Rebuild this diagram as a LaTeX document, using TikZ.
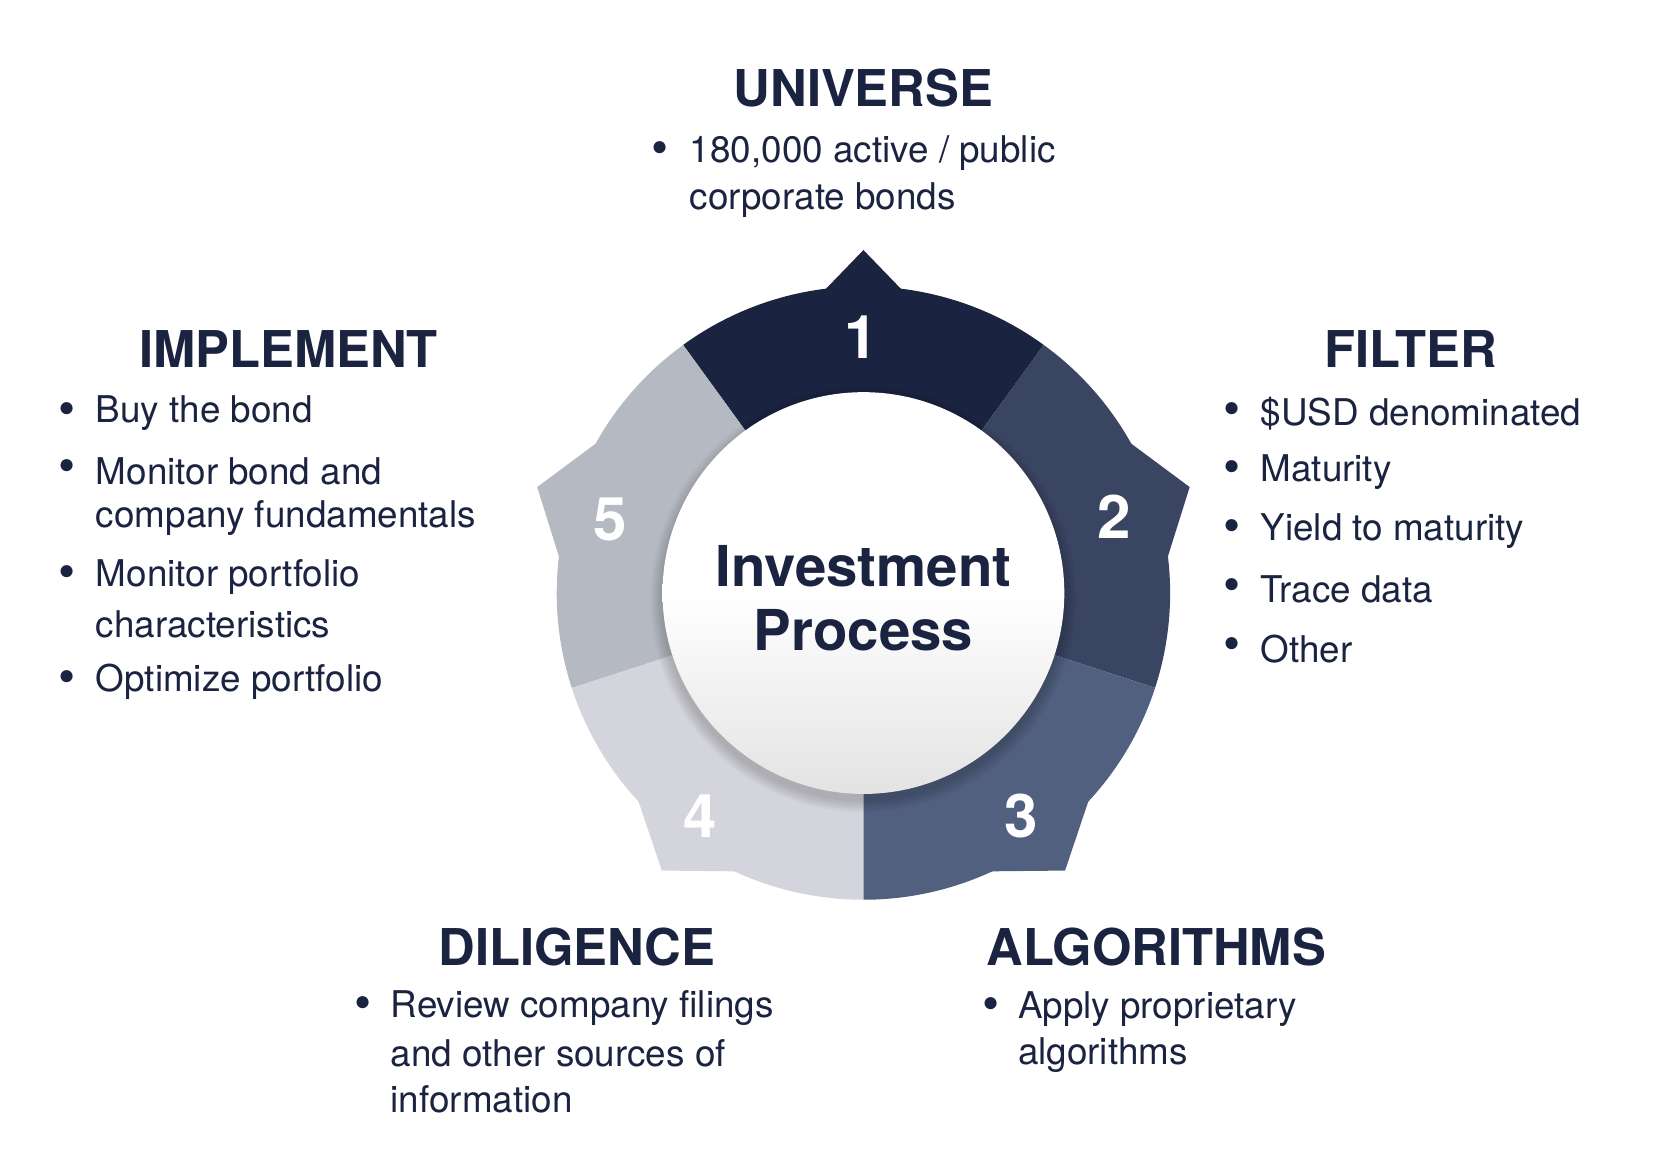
\documentclass[tikz,border=0pt]{standalone}
\usepackage{fontspec}
\setmainfont{TeX Gyre Heros}
\begin{document}
\begin{tikzpicture}[x=0.01cm,y=-0.01cm]
\definecolor{navy}{HTML}{1A2340}
\definecolor{sA}{HTML}{1A2340}
\definecolor{sB}{HTML}{3A4562}
\definecolor{sC}{HTML}{52607F}
\definecolor{sD}{HTML}{D4D4DC}
\definecolor{sE}{HTML}{B5B9C2}
\tikzset{
  ttl/.style={font=\fontsize{13.5}{16}\selectfont\bfseries, text=navy, inner sep=0},
  txt/.style={font=\fontsize{9.8}{12}\selectfont, text=navy, anchor=west, inner sep=0},
  bul/.style={font=\fontsize{13}{12}\selectfont, text=navy, inner sep=0},
  num/.style={font=\fontsize{16}{20}\selectfont\bfseries, text=white, inner sep=0},
}
\useasboundingbox (0,0) rectangle (1560,1092);
\fill[white] (0,0) rectangle (1560,1092);
\coordinate (c) at (808,555);
% segments (angles negated because y axis points down)
\foreach \a/\b/\col/\h in {-126/-54/sA/8, -54/18/sB/13, 18/90/sC/13, 90/162/sD/13, 162/234/sE/13}{
  \pgfmathsetmacro{\m}{(\a+\b)/2}
  \fill[\col] ([shift={(\a:287)}]c) arc[start angle=\a,end angle=\b,radius=287]
     -- ([shift={(\b:185)}]c) arc[start angle=\b,end angle=\a,radius=185] -- cycle;
  \fill[\col] ([shift={(\m-\h:283)}]c) -- ([shift={(\m:321)}]c) -- ([shift={(\m+\h:283)}]c) -- cycle;
}
% shadow of inner circle
\foreach \i in {1,...,6}{
  \fill[black,opacity=0.03] ([shift={(0,6)}]c) circle[radius=187+2*\i];
}
\shade[top color=white, bottom color=gray!22, middle color=white] (c) circle[radius=188];
\node[circle, minimum size=3.76cm, inner sep=0] (ctr) at (c) {};
\node[font=\fontsize{15}{18}\selectfont\bfseries, text=navy, align=center] (ip) at (808,560) {Investment\\[-1pt]Process};
% numbers
\node[num] (n1) at (806,316) {1};
\node[num] (n2) at (1043,484) {2};
\node[num] (n3) at (956,764) {3};
\node[num] (n4) at (655,764) {4};
\node[num] (n5) at (571,486) {5};
% UNIVERSE
\node[ttl] (tu) at (808,82) {UNIVERSE};
\node[bul] (bu1) at (618,143) {•};
\node[txt] (u1) at (645,143) {180,000 active / public};
\node[txt] (u2) at (645,187) {corporate bonds};
% IMPLEMENT
\node[ttl] (ti) at (270,327) {IMPLEMENT};
\node[bul] (bi1) at (63,387) {•};
\node[txt] (i1) at (89,387) {Buy the bond};
\node[bul] (bi2) at (63,441) {•};
\node[txt] (i2) at (89,441) {Monitor bond and};
\node[txt] (i3) at (89,485) {company fundamentals};
\node[bul] (bi3) at (63,540) {•};
\node[txt] (i4) at (89,540) {Monitor portfolio};
\node[txt] (i5) at (89,584) {characteristics};
\node[bul] (bi4) at (63,638) {•};
\node[txt] (i6) at (89,638) {Optimize portfolio};
% FILTER
\node[ttl] (tf) at (1320,327) {FILTER};
\foreach \y/\t [count=\k] in {387/{\$USD denominated},442/Maturity,497/Yield to maturity,552/Trace data,607/Other}{
  \node[bul] (bf\k) at (1153,\y) {•};
  \node[txt] (f\k) at (1179,\y) {\t};
}
% DILIGENCE
\node[ttl] (td) at (540,886) {DILIGENCE};
\node[bul] (bd1) at (340,943) {•};
\node[txt] (d1) at (365,943) {Review company filings};
\node[txt] (d2) at (365,986) {and other sources of};
\node[txt] (d3) at (365,1029) {information};
% ALGORITHMS
\node[ttl] (ta) at (1082,886) {ALGORITHMS};
\node[bul] (ba1) at (927,944) {•};
\node[txt] (a1) at (952,944) {Apply proprietary};
\node[txt] (a2) at (952,987) {algorithms};
\end{tikzpicture}
\end{document}
